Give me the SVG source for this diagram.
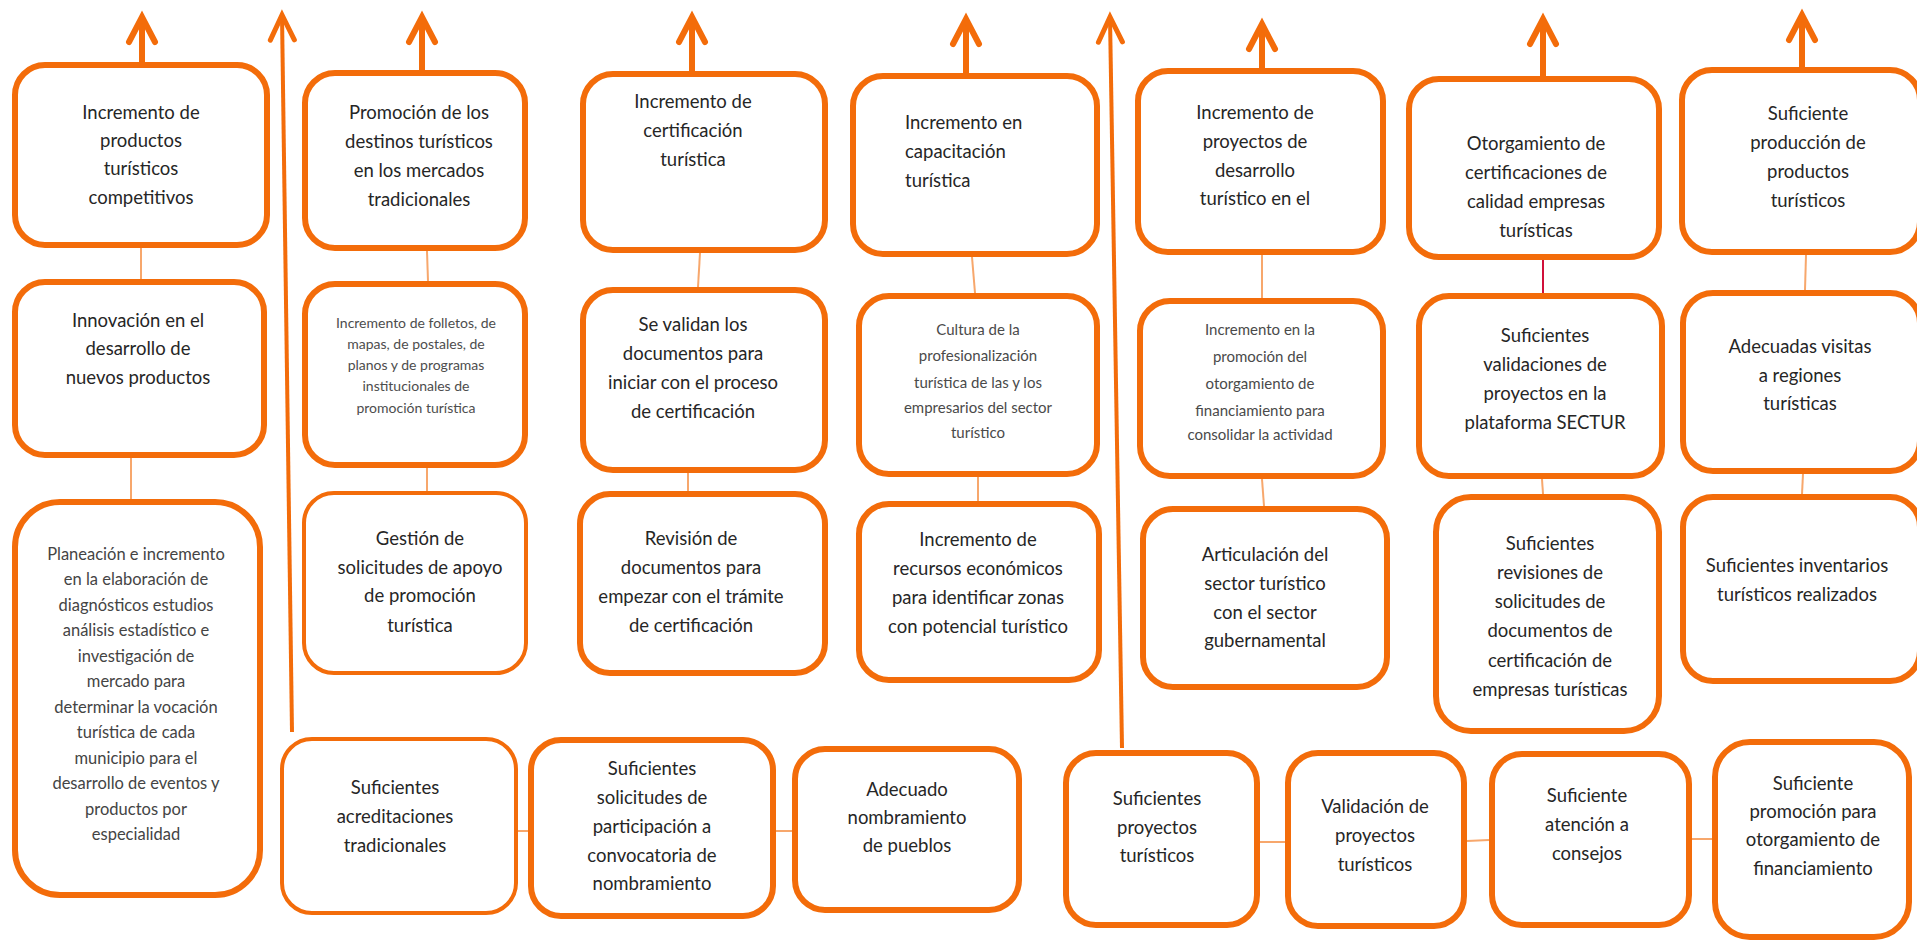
<svg xmlns="http://www.w3.org/2000/svg" width="1917" height="941" viewBox="0 0 1917 941">
<defs>
<style>
.b{fill:#fff;stroke:#F36C0A;stroke-width:6}
.bt{stroke-width:4}
.t{font-family:Lato,"Liberation Sans",sans-serif;font-size:18.5px;fill:#262626;text-anchor:middle}
.s{font-size:14px;fill:#4d4d4d}
.m{font-size:15px;fill:#4a4a4a}
.p{font-size:16.5px;fill:#444}
.c{stroke:#F7A76C;stroke-width:2;fill:none}
.a{stroke:#F36C0A;stroke-width:6;fill:none}
.al{stroke:#F36C0A;stroke-width:4;fill:none}
</style>
<marker id="ah" markerUnits="userSpaceOnUse" orient="auto" markerWidth="40" markerHeight="40" refX="0" refY="0" viewBox="-30 -20 40 40" overflow="visible">
<path d="M-25,-13 L0,0 L-25,13" fill="none" stroke="#F36C0A" stroke-width="6" stroke-linecap="round" stroke-linejoin="miter"/>
</marker>
<marker id="ahl" markerUnits="userSpaceOnUse" orient="auto" markerWidth="40" markerHeight="40" refX="0" refY="0" viewBox="-30 -20 40 40" overflow="visible">
<path d="M-25,-12 L0,0 L-25,12" fill="none" stroke="#F36C0A" stroke-width="5" stroke-linecap="round" stroke-linejoin="miter"/>
</marker>
</defs>
<rect width="1917" height="941" fill="#fff"/>
<g id="connectors">
<line class="a" x1="142" y1="62" x2="142" y2="17" marker-end="url(#ah)"/>
<line class="a" x1="422" y1="70" x2="422" y2="17" marker-end="url(#ah)"/>
<line class="a" x1="692" y1="71" x2="692" y2="17" marker-end="url(#ah)"/>
<line class="a" x1="966" y1="73" x2="966" y2="19" marker-end="url(#ah)"/>
<line class="a" x1="1262" y1="68" x2="1262" y2="24" marker-end="url(#ah)"/>
<line class="a" x1="1543" y1="76" x2="1543" y2="19" marker-end="url(#ah)"/>
<line class="a" x1="1802" y1="67" x2="1802" y2="15" marker-end="url(#ah)"/>
<line class="al" x1="292" y1="732" x2="282" y2="15" marker-end="url(#ahl)"/>
<line class="al" x1="1122" y1="748" x2="1110" y2="17" marker-end="url(#ahl)"/>
<line class="c" x1="141" y1="248" x2="141" y2="279"/>
<line class="c" x1="131" y1="458" x2="131" y2="499"/>
<line class="c" x1="427" y1="251" x2="428" y2="281"/>
<line class="c" x1="427" y1="468" x2="427" y2="491"/>
<line class="c" x1="700" y1="253" x2="698" y2="287"/>
<line class="c" x1="688" y1="473" x2="688" y2="491"/>
<line class="c" x1="972" y1="257" x2="975" y2="293"/>
<line class="c" x1="978" y1="477" x2="978" y2="501"/>
<line class="c" x1="1262" y1="255" x2="1262" y2="298"/>
<line class="c" x1="1262" y1="479" x2="1264" y2="506"/>
<line x1="1543" y1="260" x2="1543" y2="293" stroke="#D0103A" stroke-width="2"/>
<line class="c" x1="1542" y1="479" x2="1543" y2="494"/>
<line class="c" x1="1806" y1="255" x2="1805" y2="290"/>
<line class="c" x1="1803" y1="474" x2="1802" y2="494"/>
<line class="c" x1="518" y1="831" x2="528" y2="831"/>
<line class="c" x1="776" y1="831" x2="792" y2="831"/>
<line class="c" x1="1260" y1="842" x2="1285" y2="842"/>
<line class="c" x1="1467" y1="841" x2="1489" y2="840"/>
<line class="c" x1="1692" y1="839" x2="1712" y2="839"/>
</g>
<g id="n1"><rect class="b" x="15" y="65" width="252" height="180" rx="30"/>
<text class="t"><tspan x="141" y="119">Incremento de</tspan><tspan x="141" y="147">productos</tspan><tspan x="141" y="175">turísticos</tspan><tspan x="141" y="204">competitivos</tspan></text></g>
<g id="n2"><rect class="b" x="305" y="73" width="220" height="175" rx="30"/>
<text class="t"><tspan x="419" y="119">Promoción de los</tspan><tspan x="419" y="148">destinos turísticos</tspan><tspan x="419" y="177">en los mercados</tspan><tspan x="419" y="206">tradicionales</tspan></text></g>
<g id="n3"><rect class="b" x="583" y="74" width="242" height="176" rx="30"/>
<text class="t"><tspan x="693" y="108">Incremento de</tspan><tspan x="693" y="137">certificación</tspan><tspan x="693" y="166">turística</tspan></text></g>
<g id="n4"><rect class="b" x="853" y="76" width="244" height="178" rx="30"/>
<text class="t" style="text-anchor:start"><tspan x="905" y="129">Incremento en</tspan><tspan x="905" y="158">capacitación</tspan><tspan x="905" y="187">turística</tspan></text></g>
<g id="n5"><rect class="b" x="1138" y="71" width="245" height="181" rx="30"/>
<text class="t"><tspan x="1255" y="119">Incremento de</tspan><tspan x="1255" y="148">proyectos de</tspan><tspan x="1255" y="177">desarrollo</tspan><tspan x="1255" y="205">turístico en el</tspan></text></g>
<g id="n6"><rect class="b" x="1409" y="79" width="250" height="178" rx="30"/>
<text class="t"><tspan x="1536" y="150">Otorgamiento de</tspan><tspan x="1536" y="179">certificaciones de</tspan><tspan x="1536" y="208">calidad empresas</tspan><tspan x="1536" y="237">turísticas</tspan></text></g>
<g id="n7"><rect class="b" x="1682" y="70" width="238" height="182" rx="30"/>
<text class="t"><tspan x="1808" y="120">Suficiente</tspan><tspan x="1808" y="149">producción de</tspan><tspan x="1808" y="178">productos</tspan><tspan x="1808" y="207">turísticos</tspan></text></g>
<g id="n8"><rect class="b" x="15" y="282" width="249" height="173" rx="30"/>
<text class="t"><tspan x="138" y="327">Innovación en el</tspan><tspan x="138" y="355">desarrollo de</tspan><tspan x="138" y="384">nuevos productos</tspan></text></g>
<g id="n9"><rect class="b" x="305" y="284" width="220" height="181" rx="30"/>
<text class="t s"><tspan x="416" y="328">Incremento de folletos, de</tspan><tspan x="416" y="349">mapas, de postales, de</tspan><tspan x="416" y="370">planos y de programas</tspan><tspan x="416" y="391">institucionales de</tspan><tspan x="416" y="413">promoción turística</tspan></text></g>
<g id="n10"><rect class="b" x="583" y="290" width="242" height="180" rx="30"/>
<text class="t"><tspan x="693" y="331">Se validan los</tspan><tspan x="693" y="360">documentos para</tspan><tspan x="693" y="389">iniciar con el proceso</tspan><tspan x="693" y="418">de certificación</tspan></text></g>
<g id="n11"><rect class="b" x="859" y="296" width="238" height="178" rx="30"/>
<text class="t m"><tspan x="978" y="335">Cultura de la</tspan><tspan x="978" y="361">profesionalización</tspan><tspan x="978" y="388">turística de las y los</tspan><tspan x="978" y="413">empresarios del sector</tspan><tspan x="978" y="438">turístico</tspan></text></g>
<g id="n12"><rect class="b" x="1140" y="301" width="243" height="175" rx="30"/>
<text class="t m"><tspan x="1260" y="335">Incremento en la</tspan><tspan x="1260" y="362">promoción del</tspan><tspan x="1260" y="389">otorgamiento de</tspan><tspan x="1260" y="416">financiamiento para</tspan><tspan x="1260" y="440">consolidar la actividad</tspan></text></g>
<g id="n13"><rect class="b" x="1419" y="296" width="243" height="180" rx="30"/>
<text class="t"><tspan x="1545" y="342">Suficientes</tspan><tspan x="1545" y="371">validaciones de</tspan><tspan x="1545" y="400">proyectos en la</tspan><tspan x="1545" y="429">plataforma SECTUR</tspan></text></g>
<g id="n14"><rect class="b" x="1683" y="293" width="237" height="178" rx="30"/>
<text class="t"><tspan x="1800" y="353">Adecuadas visitas</tspan><tspan x="1800" y="382">a regiones</tspan><tspan x="1800" y="410">turísticas</tspan></text></g>
<g id="n15"><rect class="b" x="15" y="502" width="245" height="393" rx="45"/>
<text class="t p"><tspan x="136" y="560">Planeación e incremento</tspan><tspan x="136" y="585">en la elaboración de</tspan><tspan x="136" y="611">diagnósticos estudios</tspan><tspan x="136" y="636">análisis estadístico e</tspan><tspan x="136" y="662">investigación de</tspan><tspan x="136" y="687">mercado para</tspan><tspan x="136" y="713">determinar la vocación</tspan><tspan x="136" y="738">turística de cada</tspan><tspan x="136" y="764">municipio para el</tspan><tspan x="136" y="789">desarrollo de eventos y</tspan><tspan x="136" y="815">productos por</tspan><tspan x="136" y="840">especialidad</tspan></text></g>
<g id="n16"><rect class="b bt" x="304" y="493" width="222" height="180" rx="30"/>
<text class="t"><tspan x="420" y="545">Gestión de</tspan><tspan x="420" y="574">solicitudes de apoyo</tspan><tspan x="420" y="602">de promoción</tspan><tspan x="420" y="632">turística</tspan></text></g>
<g id="n17"><rect class="b" x="580" y="494" width="245" height="179" rx="30"/>
<text class="t"><tspan x="691" y="545">Revisión de</tspan><tspan x="691" y="574">documentos para</tspan><tspan x="691" y="603">empezar con el trámite</tspan><tspan x="691" y="632">de certificación</tspan></text></g>
<g id="n18"><rect class="b" x="859" y="504" width="240" height="176" rx="30"/>
<text class="t"><tspan x="978" y="546">Incremento de</tspan><tspan x="978" y="575">recursos económicos</tspan><tspan x="978" y="604">para identificar zonas</tspan><tspan x="978" y="633">con potencial turístico</tspan></text></g>
<g id="n19"><rect class="b" x="1143" y="509" width="244" height="178" rx="30"/>
<text class="t"><tspan x="1265" y="561">Articulación del</tspan><tspan x="1265" y="590">sector turístico</tspan><tspan x="1265" y="619">con el sector</tspan><tspan x="1265" y="647">gubernamental</tspan></text></g>
<g id="n20"><rect class="b" x="1436" y="497" width="223" height="234" rx="35"/>
<text class="t"><tspan x="1550" y="550">Suficientes</tspan><tspan x="1550" y="579">revisiones de</tspan><tspan x="1550" y="608">solicitudes de</tspan><tspan x="1550" y="637">documentos de</tspan><tspan x="1550" y="667">certificación de</tspan><tspan x="1550" y="696">empresas turísticas</tspan></text></g>
<g id="n21"><rect class="b" x="1683" y="497" width="237" height="184" rx="30"/>
<text class="t"><tspan x="1797" y="572">Suficientes inventarios</tspan><tspan x="1797" y="601">turísticos realizados</tspan></text></g>
<g id="n22"><rect class="b bt" x="282" y="739" width="234" height="174" rx="30"/>
<text class="t"><tspan x="395" y="794">Suficientes</tspan><tspan x="395" y="823">acreditaciones</tspan><tspan x="395" y="852">tradicionales</tspan></text></g>
<g id="n23"><rect class="b" x="531" y="740" width="242" height="176" rx="30"/>
<text class="t"><tspan x="652" y="775">Suficientes</tspan><tspan x="652" y="804">solicitudes de</tspan><tspan x="652" y="833">participación a</tspan><tspan x="652" y="862">convocatoria de</tspan><tspan x="652" y="890">nombramiento</tspan></text></g>
<g id="n24"><rect class="b" x="795" y="749" width="224" height="161" rx="30"/>
<text class="t"><tspan x="907" y="796">Adecuado</tspan><tspan x="907" y="824">nombramiento</tspan><tspan x="907" y="852">de pueblos</tspan></text></g>
<g id="n25"><rect class="b" x="1066" y="753" width="191" height="172" rx="30"/>
<text class="t"><tspan x="1157" y="805">Suficientes</tspan><tspan x="1157" y="834">proyectos</tspan><tspan x="1157" y="862">turísticos</tspan></text></g>
<g id="n26"><rect class="b" x="1288" y="753" width="176" height="173" rx="30"/>
<text class="t"><tspan x="1375" y="813">Validación de</tspan><tspan x="1375" y="842">proyectos</tspan><tspan x="1375" y="871">turísticos</tspan></text></g>
<g id="n27"><rect class="b" x="1492" y="754" width="197" height="171" rx="30"/>
<text class="t"><tspan x="1587" y="802">Suficiente</tspan><tspan x="1587" y="831">atención a</tspan><tspan x="1587" y="860">consejos</tspan></text></g>
<g id="n28"><rect class="b" x="1715" y="742" width="194" height="195" rx="35"/>
<text class="t"><tspan x="1813" y="790">Suficiente</tspan><tspan x="1813" y="818">promoción para</tspan><tspan x="1813" y="846">otorgamiento de</tspan><tspan x="1813" y="875">financiamiento</tspan></text></g>
</svg>
